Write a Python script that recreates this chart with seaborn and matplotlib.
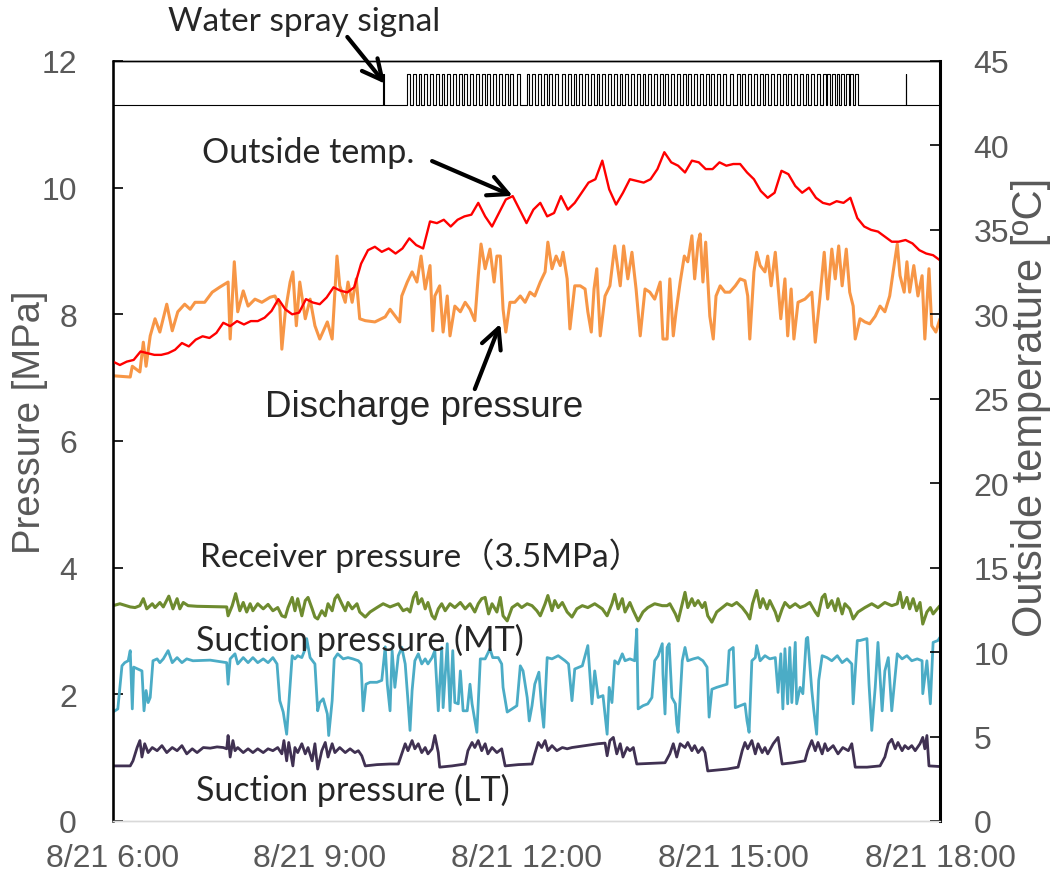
import numpy as np
import matplotlib
matplotlib.use("Agg")
import matplotlib.pyplot as plt
import seaborn as sns

# ---- data ----
# outside temperature [C], sampled every 6 min from 6:00 to 18:00
temp_c = [27.2, 27.0, 27.2, 27.3, 27.8, 27.7, 27.6, 27.6, 27.7, 27.9,
          28.3, 28.1, 28.5, 28.7, 28.6, 28.9, 29.5, 29.3, 29.6, 29.4,
          29.6, 29.6, 29.8, 30.2, 30.9, 30.3, 30.0, 30.1, 30.9, 30.7,
          30.6, 31.0, 31.6, 31.4, 31.3, 31.6, 33.0, 33.8, 34.0, 33.7,
          33.9, 33.6, 33.9, 34.5, 34.1, 33.9, 35.5, 35.4, 35.6, 35.2,
          35.6, 35.8, 35.9, 36.6, 35.8, 35.2, 36.0, 36.8, 37.0, 36.2,
          35.4, 36.2, 36.6, 35.8, 36.0, 37.0, 36.2, 36.6, 37.2, 37.8,
          38.0, 39.1, 37.4, 36.5, 37.2, 38.0, 37.9, 37.8, 38.0, 38.6,
          39.6, 39.0, 38.8, 38.4, 39.1, 39.0, 38.6, 38.6, 39.0, 38.8,
          38.9, 38.9, 38.4, 38.0, 37.3, 36.9, 37.2, 38.5, 38.3, 37.6,
          37.2, 37.5, 36.9, 36.6, 36.5, 36.7, 36.6, 36.9, 35.7, 35.2,
          35.0, 34.9, 34.6, 34.3, 34.3, 34.4, 34.2, 33.8, 33.6, 33.5, 33.2]
temp_h = np.linspace(6, 18, len(temp_c))

disch_h = [6.00, 6.25, 6.28, 6.39, 6.44, 6.48, 6.54, 6.61, 6.68, 6.78, 6.86, 6.94, 7.04, 7.12, 7.19,
           7.33, 7.44, 7.55, 7.67, 7.70, 7.76, 7.81, 7.89, 7.96, 8.06, 8.16, 8.28, 8.35, 8.42, 8.45,
           8.50, 8.57, 8.61, 8.66, 8.71, 8.79, 8.86, 8.93, 9.00, 9.11, 9.18, 9.25, 9.29, 9.37, 9.41,
           9.47, 9.53, 9.58, 9.66, 9.80, 9.95, 10.02, 10.16, 10.19, 10.27, 10.34, 10.41, 10.47, 10.53,
           10.60, 10.64, 10.67, 10.74, 10.79, 10.85, 10.89, 10.96, 11.04, 11.11, 11.18, 11.25, 11.30,
           11.34, 11.40, 11.47, 11.53, 11.57, 11.62, 11.66, 11.70, 11.76, 11.83, 11.91, 11.98, 12.05,
           12.12, 12.20, 12.27, 12.31, 12.37, 12.43, 12.49, 12.53, 12.59, 12.63, 12.70, 12.78, 12.85,
           12.89, 12.94, 12.98, 13.02, 13.07, 13.14, 13.21, 13.28, 13.36, 13.41, 13.47, 13.53, 13.59,
           13.65, 13.72, 13.79, 13.86, 13.94, 13.98, 14.04, 14.08, 14.13, 14.17, 14.23, 14.29, 14.34,
           14.40, 14.44, 14.49, 14.52, 14.56, 14.60, 14.66, 14.71, 14.75, 14.81, 14.88, 14.95, 15.03,
           15.10, 15.17, 15.21, 15.24, 15.30, 15.34, 15.39, 15.46, 15.50, 15.55, 15.61, 15.65, 15.69,
           15.75, 15.79, 15.84, 15.88, 15.94, 16.04, 16.14, 16.19, 16.26, 16.32, 16.37, 16.43, 16.48,
           16.53, 16.58, 16.64, 16.69, 16.74, 16.77, 16.84, 16.91, 16.98, 17.06, 17.13, 17.20, 17.27,
           17.32, 17.38, 17.42, 17.48, 17.52, 17.56, 17.62, 17.68, 17.74, 17.78, 17.84, 17.88, 17.94, 18.00]
disch_p = [7.03, 7.01, 7.18, 7.09, 7.56, 7.18, 7.66, 7.93, 7.72, 8.16, 7.74, 8.04, 8.16, 8.08, 8.19,
           8.19, 8.35, 8.43, 8.51, 7.61, 8.83, 8.04, 8.37, 8.13, 8.24, 8.19, 8.27, 8.29, 8.13, 7.45,
           8.04, 8.51, 8.67, 7.82, 8.51, 7.93, 8.24, 7.82, 7.61, 7.88, 7.61, 8.92, 8.45, 8.19, 8.51,
           8.19, 8.56, 7.93, 7.90, 7.88, 7.96, 8.08, 7.88, 8.29, 8.51, 8.67, 8.51, 8.92, 8.40,
           8.77, 7.74, 8.29, 8.45, 7.72, 8.29, 7.66, 8.13, 8.04, 8.19, 8.08, 7.90, 8.61,
           9.11, 8.72, 9.03, 8.51, 8.92, 8.92, 8.08, 7.72, 8.19, 8.19, 8.29, 8.19, 8.35,
           8.29, 8.51, 8.67, 9.14, 8.72, 8.92, 8.77, 8.98, 8.56, 7.77, 8.45, 8.45, 8.40,
           8.04, 7.72, 8.40, 8.72, 7.66, 8.29, 8.45, 9.08, 8.45, 9.08, 8.56, 8.98, 8.40,
           7.66, 8.40, 8.35, 8.24, 8.51, 7.61, 7.61, 8.56, 7.66, 8.04, 8.51, 8.92, 8.83,
           9.24, 8.56, 9.14, 9.27, 8.51, 9.14, 7.97, 7.61, 8.29, 8.45, 8.35, 8.35, 8.45,
           8.56, 8.53, 8.29, 7.61, 8.67, 8.98, 8.77, 8.67, 8.92, 8.45, 8.98, 8.45, 7.93,
           8.56, 7.66, 8.40, 7.61, 8.19, 8.24, 8.35, 7.56, 8.29, 8.98, 8.24, 9.03, 8.56,
           9.08, 8.45, 9.03, 8.35, 8.13, 7.61, 7.93, 7.88, 7.85, 7.97, 8.13, 8.04, 8.29,
           8.67, 9.11, 8.61, 8.35, 8.83, 8.35, 8.77, 8.29, 8.61, 7.61, 8.72, 7.82, 7.72, 7.93]

recv_h = [6.00, 6.10, 6.25, 6.32, 6.39, 6.44, 6.49, 6.57, 6.61, 6.68, 6.73, 6.81, 6.87, 6.93, 6.97,
          7.02, 7.09, 7.22, 7.65, 7.67, 7.73, 7.78, 7.84, 7.89, 7.94, 7.99, 8.03, 8.10, 8.18, 8.25,
          8.32, 8.39, 8.45, 8.50, 8.54, 8.60, 8.64, 8.68, 8.74, 8.79, 8.83, 8.89, 8.93, 8.97, 9.03,
          9.08, 9.12, 9.18, 9.22, 9.26, 9.32, 9.37, 9.41, 9.47, 9.54, 9.58, 9.66, 9.73, 9.83, 9.92,
          10.02, 10.14, 10.21, 10.27, 10.31, 10.36, 10.40, 10.43, 10.48, 10.53, 10.57, 10.63, 10.67,
          10.72, 10.77, 10.82, 10.89, 10.96, 11.04, 11.11, 11.18, 11.25, 11.30, 11.35, 11.40, 11.45,
          11.50, 11.57, 11.62, 11.66, 11.72, 11.79, 11.87, 11.93, 12.01, 12.08, 12.15, 12.20, 12.27,
          12.31, 12.37, 12.41, 12.46, 12.52, 12.59, 12.66, 12.73, 12.81, 12.89, 12.99, 13.10, 13.17,
          13.24, 13.28, 13.33, 13.39, 13.43, 13.50, 13.55, 13.62, 13.69, 13.76, 13.86, 13.97, 14.04,
          14.08, 14.16, 14.20, 14.26, 14.30, 14.34, 14.40, 14.44, 14.49, 14.55, 14.59, 14.63, 14.69,
          14.76, 14.84, 14.91, 14.98, 15.05, 15.13, 15.20, 15.24, 15.28, 15.34, 15.39, 15.43, 15.49,
          15.53, 15.61, 15.65, 15.71, 15.75, 15.82, 15.90, 15.97, 16.04, 16.11, 16.19, 16.23, 16.29,
          16.33, 16.37, 16.43, 16.48, 16.52, 16.58, 16.62, 16.69, 16.74, 16.81, 16.91, 17.01, 17.10,
          17.20, 17.30, 17.38, 17.42, 17.46, 17.52, 17.56, 17.61, 17.66, 17.71, 17.75, 17.81, 17.86,
          17.90, 17.96, 18.00]
recv_p = [3.40, 3.43, 3.38, 3.37, 3.40, 3.51, 3.35, 3.43, 3.37, 3.45, 3.38, 3.55, 3.35, 3.51, 3.35,
          3.45, 3.40, 3.39, 3.38, 3.24, 3.40, 3.59, 3.32, 3.45, 3.30, 3.43, 3.32, 3.43, 3.35, 3.42,
          3.32, 3.37, 3.24, 3.22, 3.37, 3.53, 3.32, 3.51, 3.24, 3.48, 3.53, 3.35, 3.22, 3.19, 3.32,
          3.24, 3.43, 3.32, 3.51, 3.57, 3.43, 3.32, 3.45, 3.35, 3.43, 3.30, 3.22, 3.30, 3.37, 3.43,
          3.38, 3.43, 3.32, 3.35, 3.30, 3.53, 3.61, 3.43, 3.51, 3.35, 3.45, 3.24, 3.19,
          3.35, 3.43, 3.32, 3.43, 3.37, 3.45, 3.35, 3.43, 3.30, 3.43, 3.51, 3.53, 3.27,
          3.43, 3.30, 3.53, 3.24, 3.16, 3.37, 3.43, 3.37, 3.43, 3.40, 3.32, 3.24, 3.43,
          3.56, 3.32, 3.48, 3.37, 3.45, 3.30, 3.22, 3.35, 3.40, 3.37, 3.43, 3.35, 3.24,
          3.43, 3.58, 3.35, 3.51, 3.30, 3.45, 3.32, 3.16, 3.30, 3.37, 3.43, 3.40, 3.40,
          3.43, 3.27, 3.16, 3.43, 3.61, 3.37, 3.51, 3.40, 3.48, 3.37, 3.45, 3.24, 3.14,
          3.30, 3.37, 3.43, 3.40, 3.45, 3.37, 3.27, 3.19, 3.43, 3.64, 3.37, 3.51, 3.35,
          3.48, 3.30, 3.16, 3.35, 3.45, 3.37, 3.43, 3.37, 3.40, 3.45, 3.30, 3.24, 3.53,
          3.58, 3.37, 3.48, 3.32, 3.51, 3.27, 3.43, 3.35, 3.19, 3.30, 3.37, 3.43, 3.37,
          3.45, 3.40, 3.43, 3.61, 3.37, 3.53, 3.35, 3.51, 3.32, 3.45, 3.11, 3.30, 3.37,
          3.27, 3.35, 3.40]

mt_h = [6.00, 6.07, 6.13, 6.17, 6.22, 6.25, 6.28, 6.30, 6.36, 6.42, 6.45, 6.48, 6.51, 6.54, 6.58,
        6.64, 6.68, 6.73, 6.80, 6.86, 6.93, 7.00, 7.07, 7.16, 7.41, 7.65, 7.67, 7.70, 7.77, 7.81,
        7.89, 7.96, 8.03, 8.10, 8.18, 8.25, 8.32, 8.38, 8.42, 8.47, 8.52, 8.57, 8.60, 8.64, 8.68,
        8.74, 8.79, 8.81, 8.86, 8.93, 8.97, 9.00, 9.05, 9.11, 9.13, 9.18, 9.21, 9.26, 9.34, 9.41,
        9.48, 9.56, 9.60, 9.63, 9.67, 9.73, 9.83, 9.90, 9.95, 9.98, 10.02, 10.05, 10.09, 10.14,
        10.19, 10.24, 10.28, 10.31, 10.34, 10.38, 10.43, 10.48, 10.53, 10.57, 10.63, 10.67, 10.72,
        10.77, 10.79, 10.85, 10.89, 10.93, 10.96, 11.01, 11.04, 11.08, 11.14, 11.18, 11.21, 11.28,
        11.33, 11.40, 11.47, 11.51, 11.59, 11.64, 11.66, 11.72, 11.79, 11.86, 11.91, 11.95, 12.01,
        12.04, 12.08, 12.12, 12.18, 12.22, 12.25, 12.30, 12.37, 12.46, 12.56, 12.61, 12.66, 12.70,
        12.81, 12.89, 12.95, 12.99, 13.04, 13.11, 13.17, 13.20, 13.24, 13.28, 13.33, 13.39, 13.43,
        13.50, 13.57, 13.60, 13.62, 13.69, 13.76, 13.82, 13.86, 13.91, 13.97, 13.98, 14.01, 14.04,
        14.07, 14.11, 14.16, 14.18, 14.20, 14.23, 14.26, 14.30, 14.34, 14.42, 14.49, 14.56, 14.62,
        14.65, 14.69, 14.76, 14.85, 14.91, 14.94, 15.00, 15.03, 15.10, 15.17, 15.20, 15.23, 15.27,
        15.32, 15.34, 15.39, 15.46, 15.53, 15.61, 15.65, 15.69, 15.72, 15.75, 15.79, 15.82, 15.85,
        15.90, 15.92, 15.97, 16.01, 16.06, 16.08, 16.14, 16.17, 16.21, 16.24, 16.29, 16.36, 16.43,
        16.51, 16.58, 16.65, 16.72, 16.74, 16.80, 16.84, 16.94, 16.97, 17.01, 17.06, 17.10, 17.16,
        17.20, 17.25, 17.30, 17.38, 17.45, 17.52, 17.59, 17.67, 17.74, 17.75, 17.81, 17.86, 17.90,
        17.97, 18.00]
mt_p = [1.72, 1.77, 2.45, 2.50, 2.53, 2.69, 1.77, 2.43, 2.40, 2.37, 1.74, 2.06, 1.87, 1.95, 2.53,
        2.56, 2.50, 2.56, 2.69, 2.50, 2.58, 2.50, 2.56, 2.53, 2.54, 2.50, 2.16, 2.56, 2.64, 2.48,
        2.58, 2.50, 2.58, 2.50, 2.56, 2.50, 2.58, 2.48, 1.90, 1.72, 1.37, 2.16, 2.61, 2.56, 2.61,
        2.58, 2.72, 2.88, 2.58, 2.48, 1.74, 1.87, 1.93, 1.69, 1.35, 1.90, 2.56, 2.64, 2.56, 2.58,
        2.56, 2.53, 2.48, 1.74, 2.16, 2.19, 2.19, 2.22, 2.75, 2.16, 1.74, 2.69, 2.11, 2.61,
        2.74, 2.48, 1.90, 1.43, 2.06, 2.53, 2.64, 2.48, 2.56, 2.48, 2.58, 2.69, 1.74,
        2.74, 1.79, 2.80, 1.74, 2.69, 1.87, 1.85, 2.37, 1.74, 1.74, 2.16, 1.85, 1.40,
        2.56, 2.56, 2.72, 2.58, 2.58, 2.48, 2.11, 1.72, 1.77, 1.82, 2.45, 2.37, 1.95,
        1.58, 1.82, 2.16, 2.35, 1.79, 1.48, 2.58, 2.56, 2.61, 2.53, 2.48, 1.90, 2.40,
        2.45, 2.77, 1.85, 2.37, 1.95, 1.98, 1.37, 2.11, 1.87, 2.53, 2.48, 2.64, 2.53,
        2.56, 2.53, 3.03, 1.77, 1.82, 1.85, 1.95, 2.53, 2.61, 2.80, 2.32, 1.69, 2.74,
        2.80, 1.95, 1.85, 1.53, 1.40, 1.95, 2.53, 2.74, 2.53, 2.56, 2.58, 2.53, 2.43,
        1.64, 2.08, 2.11, 2.14, 2.16, 2.69, 2.74, 1.79, 1.82, 1.85, 1.58, 1.40, 2.53,
        2.58, 2.77, 2.53, 2.61, 2.56, 2.58, 2.03, 2.64, 1.77, 2.72, 1.85, 2.74, 1.87,
        2.82, 1.85, 2.11, 2.01, 2.88, 2.90, 2.06, 1.74, 1.37, 2.22, 2.61, 2.58, 2.53,
        2.61, 2.50, 2.56, 2.48, 1.85, 2.85, 2.85, 2.88, 2.16, 1.43, 2.11, 2.82, 1.74,
        2.37, 2.58, 1.74, 2.64, 2.56, 2.61, 2.53, 2.56, 2.53, 2.01, 2.53, 1.85, 2.82,
        2.85, 2.90]

lt_h = [6.00, 6.25, 6.29, 6.35, 6.39, 6.42, 6.46, 6.51, 6.57, 6.64, 6.71, 6.78, 6.86, 6.93, 7.00,
        7.07, 7.15, 7.22, 7.31, 7.41, 7.51, 7.60, 7.65, 7.67, 7.70, 7.74, 7.77, 7.81, 7.89, 7.96,
        8.03, 8.10, 8.18, 8.25, 8.32, 8.39, 8.45, 8.48, 8.52, 8.55, 8.61, 8.64, 8.68, 8.74, 8.79,
        8.83, 8.89, 8.93, 8.97, 9.03, 9.08, 9.12, 9.18, 9.22, 9.29, 9.37, 9.44, 9.51, 9.56, 9.61,
        9.66, 9.83, 10.02, 10.14, 10.19, 10.24, 10.28, 10.34, 10.38, 10.43, 10.48, 10.53, 10.57,
        10.63, 10.67, 10.72, 10.74, 10.92, 11.11, 11.15, 11.21, 11.25, 11.30, 11.35, 11.40, 11.44,
        11.50, 11.57, 11.64, 11.69, 11.88, 12.08, 12.12, 12.17, 12.22, 12.27, 12.31, 12.37, 12.44,
        12.52, 12.59, 12.66, 12.85, 13.04, 13.14, 13.17, 13.21, 13.26, 13.31, 13.36, 13.40, 13.46,
        13.50, 13.55, 13.60, 13.82, 14.01, 14.08, 14.13, 14.18, 14.23, 14.30, 14.34, 14.40, 14.44,
        14.49, 14.55, 14.59, 14.63, 14.91, 15.07, 15.13, 15.17, 15.21, 15.27, 15.32, 15.36, 15.42,
        15.46, 15.50, 15.58, 15.65, 15.71, 15.87, 16.04, 16.08, 16.14, 16.19, 16.23, 16.29, 16.33,
        16.37, 16.45, 16.52, 16.59, 16.67, 16.72, 16.77, 16.94, 17.13, 17.20, 17.25, 17.30, 17.35,
        17.39, 17.45, 17.49, 17.54, 17.59, 17.64, 17.71, 17.75, 17.78, 17.81, 17.84, 18.00]
lt_p = [0.87, 0.87, 0.95, 1.16, 1.27, 1.01, 1.22, 1.08, 1.16, 1.11, 1.19, 1.08, 1.16, 1.11, 1.19,
        1.06, 1.14, 1.08, 1.16, 1.15, 1.17, 1.16, 1.14, 1.35, 1.01, 1.27, 1.11, 1.16, 1.08, 1.14,
        1.08, 1.14, 1.08, 1.14, 1.11, 1.16, 1.06, 1.27, 0.95, 1.24, 0.87, 1.16, 1.08, 1.22, 1.06,
        1.16, 0.95, 1.22, 0.82, 1.11, 1.24, 1.01, 1.22, 1.08, 1.16, 1.08, 1.14, 1.08, 1.11, 1.03,
        0.87, 0.89, 0.90, 0.90, 1.06, 1.22, 1.11, 1.27, 1.14, 1.22, 1.08, 1.16, 1.06,
        1.14, 1.35, 1.08, 0.85, 0.87, 0.90, 1.11, 1.24, 1.16, 1.27, 1.11, 1.22, 1.06,
        1.16, 1.08, 1.14, 0.87, 0.89, 0.90, 1.06, 1.24, 1.16, 1.27, 1.11, 1.19, 1.11,
        1.16, 1.14, 1.16, 1.19, 1.22, 1.23, 1.03, 1.27, 1.32, 1.06, 1.22, 1.01, 1.16,
        1.11, 1.16, 0.90, 0.91, 0.92, 1.06, 1.22, 1.01, 1.22, 1.16, 1.24, 1.11, 1.19,
        1.08, 1.16, 1.08, 0.79, 0.82, 0.85, 1.11, 1.24, 1.14, 1.27, 1.06, 1.22, 1.08,
        1.16, 1.06, 1.22, 1.32, 0.90, 0.92, 0.95, 1.11, 1.27, 1.11, 1.24, 1.06, 1.22,
        1.11, 1.19, 1.06, 1.16, 1.11, 1.22, 0.85, 0.85, 0.87, 1.01, 1.22, 1.29, 1.14,
        1.24, 1.11, 1.19, 1.14, 1.19, 1.11, 1.22, 1.32, 1.14, 1.35, 0.87, 0.86]

# water spray valve pulses: start minute after 6:00
spray_on = [256, 261, 266, 271, 276, 281, 286, 291, 296, 301, 306, 311, 316, 321, 326, 331, 336,
            341, 346, 352, 360, 365, 370, 375, 380, 385, 391, 396, 401, 406, 411, 416, 421, 426,
            431, 436, 441, 446, 451, 456, 461, 466, 471, 476, 481, 486, 491, 496, 501, 506, 511,
            516, 521, 526, 531, 537, 543, 548, 553, 558, 563, 568, 573, 578, 583, 588, 593, 598,
            603, 608, 613, 618, 622, 626, 630, 634, 638, 642, 646]
spray_width = 2.5
spike_on = [235, 690]
spike_width = 0.8

# ---- style ----
sns.set_style("white")
plt.rcParams["font.family"] = ["Liberation Sans", "DejaVu Sans"]
GRAY = "#595959"
LABEL_FONT = ["Lato", "Noto Sans CJK JP", "DejaVu Sans"]

fig = plt.figure(figsize=(10.56, 8.78), dpi=100)
ax = fig.add_axes([113 / 1056, 1 - 822 / 878, 827 / 1056, 760 / 878])
ax2 = ax.twinx()

# step trace of the spray signal
sig_t, sig_v = [0.0], [0.0]
for on, w in sorted([(m, spray_width) for m in spray_on] + [(m, spike_width) for m in spike_on]):
    sig_t += [on, on, on + w, on + w]
    sig_v += [0, 1, 1, 0]
sig_t.append(720.0)
sig_v.append(0)
sig_h = 6 + np.array(sig_t) / 60.0
sig_y = 11.31 + 0.49 * np.array(sig_v)

sns.lineplot(x=sig_h, y=sig_y, ax=ax, color="black", lw=0.8, estimator=None, sort=False)
sns.lineplot(x=disch_h, y=disch_p, ax=ax, color="#F79646", lw=2.2, estimator=None, sort=False)
sns.lineplot(x=recv_h, y=recv_p, ax=ax, color="#6E8B2F", lw=2.2, estimator=None, sort=False)
sns.lineplot(x=mt_h, y=mt_p, ax=ax, color="#4BACC6", lw=2.0, estimator=None, sort=False)
sns.lineplot(x=lt_h, y=lt_p, ax=ax, color="#403152", lw=2.0, estimator=None, sort=False)
sns.lineplot(x=temp_h, y=temp_c, ax=ax2, color="#FF0000", lw=1.7, estimator=None, sort=False)

ax.set_xlim(6, 18)
ax.set_ylim(0, 12)
ax2.set_ylim(0, 45)
ax.set_xticks([6, 9, 12, 15, 18])
ax.set_xticklabels(["8/21 6:00", "8/21 9:00", "8/21 12:00", "8/21 15:00", "8/21 18:00"])
ax.set_yticks(range(0, 13, 2))
ax2.set_yticks(range(0, 46, 5))

ax.tick_params(axis="y", direction="in", length=7, width=1.2, colors="black",
               labelcolor=GRAY, labelsize=23, pad=26)
ax.tick_params(axis="x", length=0, labelcolor=GRAY, labelsize=23, pad=16)
ax2.tick_params(axis="y", direction="in", length=7, width=1.2, colors="black",
                labelcolor=GRAY, labelsize=23, pad=24)

ax.set_ylabel("Pressure [MPa]", fontsize=27.5, color=GRAY)
ax.yaxis.set_label_coords(-0.078, 0.526)
ax2.set_ylabel("Outside temperature [ºC]", fontsize=30, color=GRAY)
ax2.yaxis.set_label_coords(1.086, 0.546)

for a in (ax, ax2):
    for s in a.spines.values():
        s.set_color("black")
        s.set_linewidth(1.0)
ax.spines["left"].set_linewidth(1.8)
ax2.spines["right"].set_linewidth(2.2)
ax.spines["bottom"].set_color("#D9D9D9")
ax2.spines["bottom"].set_color("#D9D9D9")

# ---- annotations (pressure coordinates) ----
arrow = dict(arrowstyle="->", lw=3.0, color="black", mutation_scale=36, shrinkA=0, shrinkB=0)
ax2.text(6.80, 12.63, "Water spray signal", transform=ax.transData, fontsize=24,
         family=LABEL_FONT, va="center", ha="left")
ax2.annotate("", xy=(9.95, 11.64), xytext=(9.40, 12.38), xycoords=ax.transData,
             textcoords=ax.transData, arrowprops=arrow, annotation_clip=False)
ax2.text(7.29, 10.56, "Outside temp.", transform=ax.transData, fontsize=24.5,
         family=LABEL_FONT, va="center", ha="left")
ax2.annotate("", xy=(11.80, 9.87), xytext=(10.63, 10.42), xycoords=ax.transData,
             textcoords=ax.transData, arrowprops=arrow)
ax2.text(8.21, 6.54, "Discharge pressure", transform=ax.transData, fontsize=26.5,
         va="center", ha="left")
ax2.annotate("", xy=(11.62, 7.85), xytext=(11.25, 6.82), xycoords=ax.transData,
             textcoords=ax.transData, arrowprops=arrow)
ax2.text(7.26, 4.20, "Receiver pressure（3.5MPa）", transform=ax.transData, fontsize=24,
         family=LABEL_FONT, va="center", ha="left")
ax2.text(7.20, 2.87, "Suction pressure (MT)", transform=ax.transData, fontsize=24.5,
         family=LABEL_FONT, va="center", ha="left")
ax2.text(7.20, 0.505, "Suction pressure (LT)", transform=ax.transData, fontsize=24.5,
         family=LABEL_FONT, va="center", ha="left")

fig.savefig("out.png", dpi=100)
plt.close(fig)
